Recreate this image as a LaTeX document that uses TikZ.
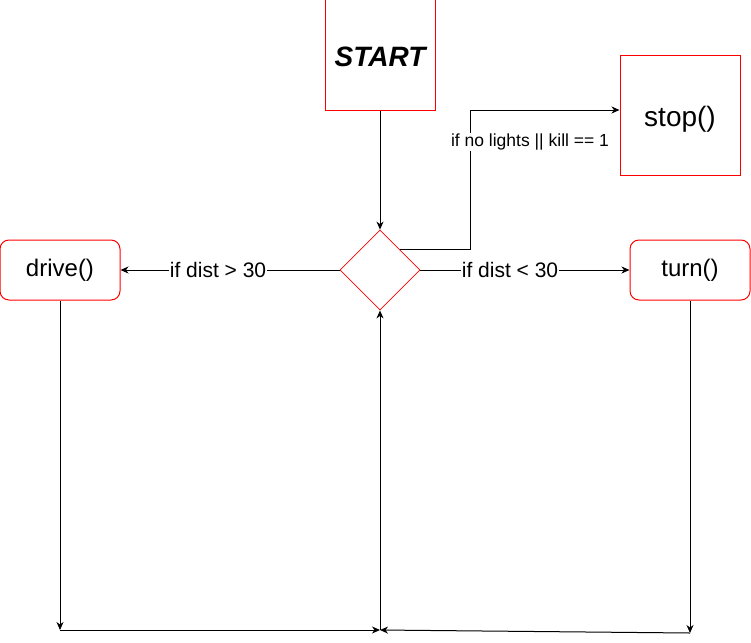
\documentclass[tikz,border=0pt]{standalone}
\usepackage{fontspec}
\setmainfont{Liberation Sans}
\usetikzlibrary{arrows.meta,shapes.geometric}
\begin{document}
\begin{tikzpicture}[x=1pt,y=-1pt,
  sqbox/.style={draw=red, line width=1pt, rectangle, inner sep=0pt},
  rbox/.style={draw=red, line width=1pt, rectangle, rounded corners=9pt, minimum width=120pt, minimum height=60pt, inner sep=0pt, font=\fontsize{24}{28}\selectfont},
  decision/.style={draw=red, line width=0.8pt, diamond, minimum width=80pt, minimum height=80pt, inner sep=0pt},
  conn/.style={line width=1pt, -{Stealth[length=8pt,width=7pt,inset=2.5pt]}},
  lbl/.style={fill=white, inner sep=1pt, font=\fontsize{21}{24}\selectfont},
  smalllbl/.style={fill=white, inner sep=1pt, font=\fontsize{17.5}{20}\selectfont}]
\useasboundingbox (0,0) rectangle (751,642);

\node[sqbox, minimum width=110pt, minimum height=110pt, text height=23pt, text depth=0pt, font=\fontsize{28}{32}\selectfont\bfseries\itshape] (start) at (380,55) {START};
\node[sqbox, minimum width=120pt, minimum height=120pt, text height=25pt, text depth=2pt, font=\fontsize{28}{32}\selectfont] (stop) at (680,115) {stop()};
\node[decision] (dec) at (380,270) {};
\node[rbox] (drive) at (60,270) {drive()};
\node[rbox] (turn) at (690,270) {turn()};

\coordinate (k) at (470,110);
\coordinate (bl) at (60,630);
\coordinate (bm) at (380,630);
\coordinate (br) at (690,633);

\draw[conn] (start) -- (dec);
\draw[conn] (dec.north east) -| (k) -- (k -| stop.west);
\draw[conn] (dec) -- (turn);
\draw[conn] (dec) -- (drive);
\draw[conn] (drive) -- (bl);
\draw[conn] (turn) -- (br);
\draw[conn] (bl) -- (bm);
\draw[conn] (br) -- (bm);
\draw[conn] (bm) -- (dec);

\node[smalllbl] (klbl) at (530,142) {if no lights || kill == 1};
\node[lbl] (llbl) at (218,270) {if dist > 30};
\node[lbl] (rlbl) at (510,270) {if dist < 30};
\end{tikzpicture}
\end{document}
